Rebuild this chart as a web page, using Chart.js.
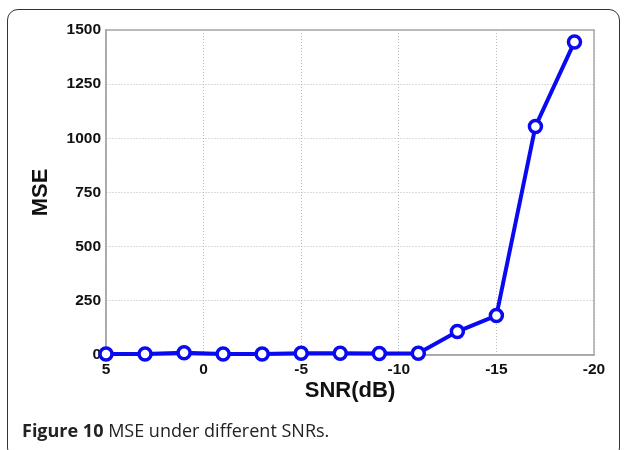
<!DOCTYPE html>
<html>
<head>
<meta charset="utf-8">
<script src="https://cdn.jsdelivr.net/npm/chart.js@4/dist/chart.umd.min.js"></script>
<style>
  html, body { margin: 0; padding: 0; background: #fff; }
  body { width: 624px; height: 450px; position: relative; overflow: hidden; }
  #card { position: absolute; left: 7px; top: 9px; width: 613px; height: 450px;
          border: 1.5px solid #333; border-radius: 11px; box-sizing: border-box; }
  #wrap { position: absolute; left: 0; top: 0; width: 624px; height: 450px; }
  #caption { position: absolute; left: 22px; top: 418px; font-family: "Open Sans", "Noto Sans", sans-serif;
             font-size: 18px; color: #222; white-space: nowrap; }
  #caption b { font-weight: 700; }
</style>
</head>
<body>
<div id="card"></div>
<div id="wrap"><canvas id="c" width="624" height="450"></canvas></div>
<div id="caption"><b>Figure 10</b> MSE under different SNRs.</div>
<script>
const snrValues = [5, 3, 1, -1, -3, -5, -7, -9, -11, -13, -15, -17, -19];
const mseValues = [5, 5, 10, 5, 5, 8, 8, 7, 8, 108, 182, 1055, 1445];
const xTickValues = [5, 0, -5, -10, -15, -20];
const yTickValues = [0, 250, 500, 750, 1000, 1250, 1500];
const xAxisTitle = 'SNR(dB)';
const yAxisTitle = 'MSE';

const frame = {
  id: 'frame',
  beforeDatasetsDraw(chart) {
    const a = chart.chartArea, ctx = chart.ctx;
    ctx.save();
    ctx.strokeStyle = '#a8a8a8';
    ctx.lineWidth = 1.5;
    ctx.strokeRect(a.left, a.top, a.right - a.left, a.bottom - a.top);
    ctx.restore();
  }
};

const tickFont = { family: '"Liberation Sans", Arial, sans-serif', size: 15.5, weight: 'bold' };
const titleFont = { family: '"Liberation Sans", Arial, sans-serif', size: 22, weight: 'bold' };

new Chart(document.getElementById('c'), {
  type: 'line',
  data: {
    datasets: [{
      data: snrValues.map((s, i) => ({ x: s, y: mseValues[i] })),
      borderColor: '#0a0af0',
      borderWidth: 4,
      pointRadius: 6,
      pointBorderWidth: 3.5,
      pointBackgroundColor: '#ffffff',
      pointBorderColor: '#0a0af0',
      tension: 0,
      clip: false
    }]
  },
  options: {
    responsive: false,
    animation: false,
    events: [],
    layout: { padding: { left: 0, right: 30, top: 30, bottom: 46 } },
    plugins: { legend: { display: false }, tooltip: { enabled: false } },
    scales: {
      x: {
        type: 'linear',
        min: -20, max: 5,
        reverse: true,
        afterBuildTicks: s => { s.ticks = xTickValues.map(v => ({ value: v })); },
        afterFit: s => { s.height = 49; },
        grid: { color: '#b8b8b8', lineWidth: 1, drawTicks: false, tickLength: 0 },
        border: { display: true, color: '#a8a8a8', width: 1.5, dash: [1, 2] },
        ticks: { font: tickFont, color: '#111', padding: 5, maxRotation: 0, callback: v => String(v) },
        title: { display: true, text: xAxisTitle, font: titleFont, color: '#111', padding: { top: 0, bottom: 0 } }
      },
      y: {
        min: 0, max: 1500,
        afterBuildTicks: s => { s.ticks = yTickValues.map(v => ({ value: v })); },
        afterFit: s => { s.width = 106; },
        grid: { color: '#b8b8b8', lineWidth: 1, drawTicks: false, tickLength: 0 },
        border: { display: true, color: '#a8a8a8', width: 1.5, dash: [1, 2] },
        ticks: { font: tickFont, color: '#111', padding: 5, callback: v => String(v) },
        title: { display: true, text: yAxisTitle, font: titleFont, color: '#111', padding: { top: 28, bottom: 0 } }
      }
    }
  },
  plugins: [frame]
});
</script>
</body>
</html>
